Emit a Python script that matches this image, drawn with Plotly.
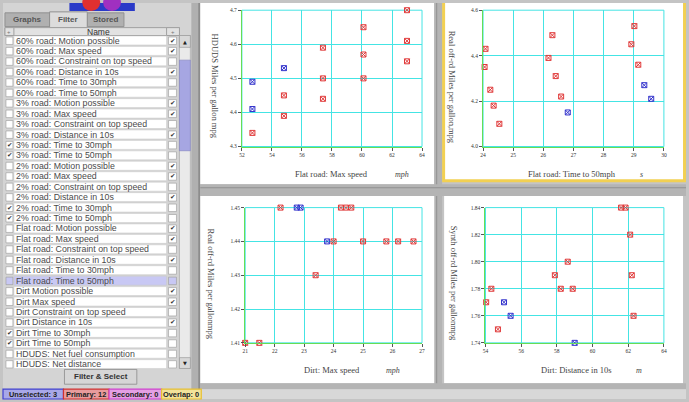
import plotly.graph_objects as go

# ---------------- data ----------------
p1_red_x = [52.7, 54.8, 54.8, 57.4, 57.4, 57.4, 60.1, 60.1, 60.1, 63.0, 63.0, 63.0]
p1_red_y = [4.34, 4.45, 4.39, 4.59, 4.50, 4.44, 4.65, 4.57, 4.50, 4.70, 4.61, 4.55]
p1_blue_x = [52.7, 52.7, 54.8]
p1_blue_y = [4.49, 4.41, 4.53]

p2_red_x = [24.08, 24.05, 24.24, 24.35, 24.54, 26.30, 26.17, 26.41, 26.59, 29.02, 28.92, 29.15]
p2_red_y = [4.43, 4.35, 4.25, 4.18, 4.10, 4.49, 4.39, 4.31, 4.22, 4.53, 4.45, 4.36]
p2_blue_x = [26.81, 29.35, 29.58]
p2_blue_y = [4.15, 4.27, 4.21]

p3_red_x = [22.2, 24.25, 24.42, 24.6, 24.0, 25.0, 25.79, 26.19, 26.71, 23.39, 21.0, 21.48]
p3_red_y = [1.45, 1.45, 1.45, 1.45, 1.44, 1.44, 1.44, 1.44, 1.44, 1.43, 1.41, 1.41]
p3_blue_x = [22.75, 22.88, 23.78]
p3_blue_y = [1.45, 1.45, 1.44]

p4_red_x = [61.6, 61.85, 62.11, 58.61, 57.89, 62.2, 54.33, 58.22, 58.89, 54.04, 62.3, 54.7]
p4_red_y = [1.84, 1.84, 1.82, 1.80, 1.79, 1.79, 1.78, 1.78, 1.78, 1.77, 1.76, 1.75]
p4_blue_x = [55.04, 55.41, 59.0]
p4_blue_y = [1.77, 1.76, 1.74]

x_titles = ["Flat road: Max speed", "Flat road: Time to 50mph", "Dirt: Max speed", "Dirt: Distance in 10s"]
x_units = ["mph", "s", "mph", "m"]
y_titles = ["HDUDS Miles per gallon mpg", "Real off-rd Miles per gallon,mpg",
            "Real off-rd Miles per gallonmpg", "Synth off-rd Miles per gallonmpg"]

row_names = [
    "60% road: Motion possible", "60% road: Max speed", "60% road: Constraint on top speed",
    "60% road: Distance in 10s", "60% road: Time to 30mph", "60% road: Time to 50mph",
    "3% road: Motion possible", "3% road: Max speed", "3% road: Constraint on top speed",
    "3% road: Distance in 10s", "3% road: Time to 30mph", "3% road: Time to 50mph",
    "2% road: Motion possible", "2% road: Max speed", "2% road: Constraint on top speed",
    "2% road: Distance in 10s", "2% road: Time to 30mph", "2% road: Time to 50mph",
    "Flat road: Motion possible", "Flat road: Max speed", "Flat road: Constraint on top speed",
    "Flat road: Distance in 10s", "Flat road: Time to 30mph", "Flat road: Time to 50mph",
    "Dirt Motion possible", "Dirt Max speed", "Dirt Constraint on top speed",
    "Dirt Distance in 10s", "Dirt Time to 30mph", "Dirt Time to 50mph",
    "HDUDS: Net fuel consumption", "HDUDS: Net distance",
]
left_checked = [0, 0, 0, 0, 0, 0, 0, 0, 0, 0, 1, 1, 0, 0, 0, 0, 1, 1,
                0, 0, 0, 0, 0, 0, 0, 0, 0, 0, 1, 1, 0, 0]
right_checked = [1, 1, 0, 1, 0, 0, 1, 1, 0, 1, 0, 0, 1, 1, 0, 1, 0, 0,
                 1, 1, 0, 1, 0, 0, 1, 1, 0, 1, 0, 0, 0, 0]
highlight_row = 23

status_labels = ["Unselected: 3", "Primary: 12", "Secondary: 0", "Overlap: 0"]

# ---------------- helpers ----------------
W, H = 689, 402
def X(p): return p / W
def Y(p): return 1 - p / H

shapes = []
annotations = []

def rect(x0, y0, x1, y1, fill, line=None, lw=0):
    shapes.append(dict(type='rect', xref='paper', yref='paper', layer='below',
                       x0=X(x0), x1=X(x1), y0=Y(y1), y1=Y(y0), fillcolor=fill,
                       line=dict(color=line or fill, width=lw)))

def circle(x0, y0, x1, y1, fill):
    shapes.append(dict(type='circle', xref='paper', yref='paper', layer='below',
                       x0=X(x0), x1=X(x1), y0=Y(y1), y1=Y(y0), fillcolor=fill,
                       line=dict(width=0)))

def text(x, y, s, size=7, color='#333333', family='Liberation Sans', xanchor='left', angle=0):
    annotations.append(dict(x=X(x), y=Y(y), xref='paper', yref='paper', text=s,
                            showarrow=False, xanchor=xanchor, yanchor='middle',
                            textangle=angle, borderpad=0,
                            font=dict(size=size, color=color, family=family)))

# ---------------- background / frames ----------------
rect(0, 0, 689, 402, '#c4c4c4')
rect(0, 0, 192, 392, '#d4d4d4')
rect(190, 0, 199, 392, '#b0b0b0')
rect(197, 0, 199, 392, '#8c8c8c')
# panel 1
rect(199, 0, 435, 184, '#ffffff')
# separators
rect(435, 0, 443, 392, '#b4b4b4')
rect(437, 0, 438, 392, '#909090')
rect(199, 184, 689, 196, '#b4b4b4')
rect(199, 187, 689, 188, '#909090')
# panel 2 (selected, yellow border)
rect(443, 0, 689, 182, '#f2d052')
rect(446, 0, 686, 179, '#ffffff')
# panels 3/4
rect(199, 196, 435, 386, '#ffffff')
rect(445, 196, 686, 386, '#ffffff')
rect(199, 386, 689, 392, '#b4b4b4')
rect(199, 392, 689, 402, '#d8d8d8')

# ---------------- left panel ----------------
# logo fragment
rect(67, 0, 133, 8, '#2a3ac8')
circle(80, -9, 98, 8, '#e03030')
circle(101, -9, 119, 8, '#a030c0')
# tabs
rect(2, 10, 47, 24, '#b0b0b0', '#909090', 1)
rect(85, 10, 122, 24, '#b0b0b0', '#909090', 1)
rect(47, 9, 85, 25, '#dcdcdc', '#909090', 1)
text(24.5, 17, "<b>Graphs</b>", size=8, color='#555555', xanchor='center')
text(66, 17, "<b>Filter</b>", size=8, color='#555555', xanchor='center')
text(103.5, 17, "<b>Stored</b>", size=8, color='#555555', xanchor='center')
# table header
rect(2, 25, 178, 33, '#e2e2e2', '#a0a0a0', 1)
rect(2, 25, 11, 33, '#e2e2e2', '#a0a0a0', 1)
rect(165, 25, 178, 33, '#e2e2e2', '#a0a0a0', 1)
text(6.5, 29, "+", size=6, color='#777777', xanchor='center')
text(96, 29, "Name", size=8.5, color='#333333', xanchor='center')
text(171.5, 29, "+", size=6, color='#777777', xanchor='center')
# rows
row_h = 10.6
for i, name in enumerate(row_names):
    top = 33 + i * row_h
    bot = min(top + row_h - 1, 371)
    if top >= 371:
        break
    hl = (i == highlight_row)
    cell = '#c8c8f4' if hl else '#ffffff'
    rect(3, top + 1.5, 10, bot - 0.5, cell, '#9a9a9a', 0.6)
    rect(11, top + 0.5, 165, bot, cell, '#c8c8c8', 0.5)
    rect(167, top + 1.5, 175, bot - 0.5, cell, '#9a9a9a', 0.6)
    cy = (top + bot) / 2 + 0.3
    text(12, cy, name, size=8.8, color='#4a4a4a')
    if left_checked[i]:
        text(6.5, cy, "✔", size=6.5, color='#333333', xanchor='center', family='DejaVu Sans')
    if right_checked[i]:
        text(171, cy, "✔", size=6.5, color='#333333', xanchor='center', family='DejaVu Sans')
# scrollbar
rect(178, 33, 189, 371, '#eaeaea', '#a0a0a0', 0.6)
rect(178, 33, 189, 45, '#d8d8d8', '#909090', 0.6)
text(183.5, 39.5, "▲", size=5, color='#222222', xanchor='center', family='DejaVu Sans')
rect(178, 58, 189, 150, '#a6a6e2', '#8080c0', 0.6)
rect(178, 360, 189, 371, '#d8d8d8', '#909090', 0.6)
text(183.5, 365.5, "▼", size=5, color='#222222', xanchor='center', family='DejaVu Sans')
# button
rect(62, 372, 135, 387, '#d6d6d6', '#8a8a8a', 0.8)
text(98.5, 379.5, "<b>Filter &amp; Select</b>", size=8, color='#333333', xanchor='center')
# status bar
seg = [(0, 61, '#a8a8e8', '#4040d0'), (61, 107, '#e89c9c', '#d03030'),
       (107, 160, '#e4a0e4', '#d040d0'), (160, 200, '#f2e39a', '#e8c030')]
for (x0, x1, fc, lc), lab in zip(seg, status_labels):
    rect(x0, 392, x1, 402, fc, lc, 1.2)
    text((x0 + x1) / 2, 397, "<b>" + lab + "</b>", size=7.4, color='#222222', xanchor='center')

# ---------------- charts ----------------
grid_c = '#44e4e4'
line_c = '#66dd55'
def axis(dom, rng, dtick, fmt):
    return dict(domain=dom, range=rng, dtick=dtick, tick0=rng[0], tickformat=fmt,
                showgrid=True, gridcolor=grid_c, gridwidth=1,
                showline=True, linecolor=line_c, linewidth=1, zeroline=False,
                ticks='outside', ticklen=3, tickcolor='#555555', tickwidth=0.8,
                tickfont=dict(size=5.5, family='Liberation Serif', color='#333333'),
                fixedrange=True)

layout_axes = dict(
    xaxis=axis([X(241), X(422.7)], [52, 64], 2, 'd'),
    yaxis=axis([Y(145.7), Y(7.3)], [4.3, 4.7], 0.1, '.1f'),
    xaxis2=axis([X(484.3), X(666.7)], [24, 30], 1, 'd'),
    yaxis2=axis([Y(145.7), Y(7.3)], [4.0, 4.6], 0.2, '.1f'),
    xaxis3=axis([X(244.3), X(422.7)], [21, 27], 1, 'd'),
    yaxis3=axis([Y(345), Y(207.7)], [1.41, 1.45], 0.01, '.2f'),
    xaxis4=axis([X(486.7), X(666.7)], [54, 64], 2, 'd'),
    yaxis4=axis([Y(345), Y(207.7)], [1.74, 1.84], 0.02, '.2f'),
)
for k in range(1, 5):
    s = '' if k == 1 else str(k)
    layout_axes['xaxis' + s]['anchor'] = 'y' + s
    layout_axes['yaxis' + s]['anchor'] = 'x' + s
    shapes.append(dict(type='rect', xref='x' + s + ' domain', yref='y' + s + ' domain',
                       x0=0, x1=1, y0=0, y1=1, line=dict(color=grid_c, width=1), layer='below'))

fig = go.Figure()
sets = [(p1_red_x, p1_red_y, p1_blue_x, p1_blue_y),
        (p2_red_x, p2_red_y, p2_blue_x, p2_blue_y),
        (p3_red_x, p3_red_y, p3_blue_x, p3_blue_y),
        (p4_red_x, p4_red_y, p4_blue_x, p4_blue_y)]
for k, (rx, ry, bx, by) in enumerate(sets, start=1):
    s = '' if k == 1 else str(k)
    for xs, ys, col in ((bx, by, '#3333cc'), (rx, ry, '#e03a3a')):
        fig.add_trace(go.Scatter(x=xs, y=ys, mode='markers', xaxis='x' + s, yaxis='y' + s,
                                 cliponaxis=False, hoverinfo='skip',
                                 marker=dict(symbol='square-x-open', size=5, color=col,
                                             line=dict(width=1, color=col))))

# axis titles
xt_pos = [(331, 174, 403), (574, 174, 644), (332, 373, 393), (579, 373, 642)]
yt_pos = [(214, 84), (453, 85), (210, 285), (455, 284)]
for k in range(4):
    cx, cy, ux = xt_pos[k]
    text(cx, cy, x_titles[k], size=8.5, color='#444444', family='Liberation Serif', xanchor='center')
    text(ux, cy, "<i>" + x_units[k] + "</i>", size=8, color='#444444', family='Liberation Serif', xanchor='center')
    yx, yy = yt_pos[k]
    text(yx, yy, y_titles[k], size=8.5, color='#444444', family='Liberation Serif', xanchor='center', angle=90)

fig.update_layout(width=W, height=H, margin=dict(l=0, r=0, t=0, b=0),
                  paper_bgcolor='#c4c4c4', plot_bgcolor='rgba(0,0,0,0)',
                  showlegend=False, shapes=shapes, annotations=annotations,
                  **layout_axes)
fig.write_html("out.html", config={'displayModeBar': False},
               post_script="document.body.style.margin='0px';")
